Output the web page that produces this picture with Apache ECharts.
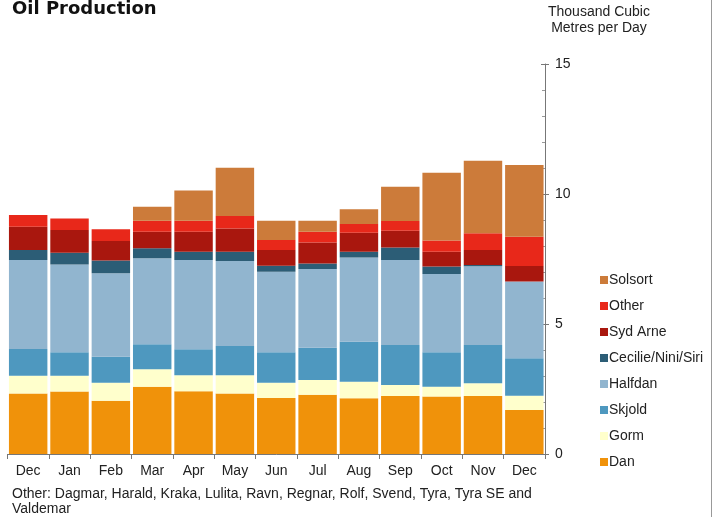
<!DOCTYPE html>
<html>
<head>
<meta charset="utf-8">
<script src="https://cdn.jsdelivr.net/npm/echarts@6/dist/echarts.min.js"></script>
<style>html,body{margin:0;padding:0;background:#fff}#c{width:718px;height:517px}</style>
</head>
<body>
<div id="c"></div>
<script>
var categories = ['Dec','Jan','Feb','Mar','Apr','May','Jun','Jul','Aug','Sep','Oct','Nov','Dec'];
var dan      = [2.33,2.40,2.05,2.59,2.41,2.33,2.15,2.28,2.14,2.23,2.21,2.23,1.69];
var gorm     = [0.68,0.61,0.69,0.67,0.62,0.70,0.59,0.57,0.64,0.42,0.38,0.49,0.55];
var skjold   = [1.03,0.90,1.00,0.96,1.00,1.12,1.17,1.24,1.54,1.54,1.32,1.47,1.44];
var halfdan  = [3.42,3.38,3.21,3.31,3.43,3.27,3.10,3.03,3.24,3.27,3.01,3.03,2.95];
var cecilie  = [0.39,0.45,0.49,0.38,0.32,0.36,0.23,0.21,0.22,0.48,0.29,0.05,0.00];
var sydArne  = [0.89,0.88,0.75,0.64,0.77,0.89,0.61,0.80,0.73,0.65,0.57,0.58,0.60];
var other    = [0.45,0.44,0.45,0.42,0.42,0.48,0.38,0.42,0.34,0.37,0.43,0.64,1.13];
var solsort  = [0.00,0.00,0.00,0.54,1.16,1.86,0.74,0.42,0.56,1.32,2.61,2.79,2.76];
var yTicks = [0,5,10,15];

var seriesDefs = [
  ['Dan', dan, '#F0920A'],
  ['Gorm', gorm, '#FFFFCC'],
  ['Skjold', skjold, '#4E98BF'],
  ['Halfdan', halfdan, '#91B5CF'],
  ['Cecilie/Nini/Siri', cecilie, '#2C5D76'],
  ['Syd Arne', sydArne, '#A9170E'],
  ['Other', other, '#E8281A'],
  ['Solsort', solsort, '#CC7B3A']
];
var FONT = 'Liberation Sans, Arial, sans-serif';
var chart = echarts.init(document.getElementById('c'));
chart.setOption({
  animation: false,
  title: {
    text: 'Oil Production', left: 7, top: -5,
    textStyle: {fontFamily: 'DejaVu Sans, sans-serif', fontSize: 18, fontWeight: 'bold', color: '#111'}
  },
  graphic: [
    {type: 'text', left: 548, top: 4, style: {text: 'Thousand Cubic\nMetres per Day', font: '14px ' + FONT, fill: '#222', textAlign: 'center', lineHeight: 16}},
    {type: 'text', left: 12, top: 487, style: {text: 'Other: Dagmar, Harald, Kraka, Lulita, Ravn, Regnar, Rolf, Svend, Tyra, Tyra SE and\nValdemar', font: '14px ' + FONT, fill: '#222', lineHeight: 15}},
    {type: 'rect', shape: {x: 711, y: 0, width: 1, height: 517}, style: {fill: '#999'}}
  ],
  legend: {
    orient: 'vertical', left: 595, top: 268,
    itemWidth: 8, itemHeight: 8, itemGap: 12,
    icon: 'rect',
    data: ['Solsort','Other','Syd Arne','Cecilie/Nini/Siri','Halfdan','Skjold','Gorm','Dan'],
    textStyle: {fontFamily: FONT, fontSize: 14, color: '#222', padding: [0,0,0,-4]}
  },
  grid: {left: 7.5, right: 173, top: 64, bottom: 63, containLabel: false},
  xAxis: {
    type: 'category', data: categories,
    axisLine: {lineStyle: {color: '#777'}},
    axisTick: {show: true, length: 5, lineStyle: {color: '#777'}},
    axisLabel: {fontFamily: FONT, fontSize: 14, color: '#222', margin: 10, interval: 0}
  },
  yAxis: [{
    type: 'value', position: 'right', min: 0, max: 15, interval: 5,
    splitLine: {show: false},
    axisLine: {show: true, lineStyle: {color: '#777'}},
    axisTick: {show: true, inside: true, length: 4, lineStyle: {color: '#777'}},
    minorTick: {show: true, splitNumber: 5, length: 3, lineStyle: {color: '#999'}},
    axisLabel: {fontFamily: FONT, fontSize: 14, color: '#222', margin: 10,
      formatter: function(v){ return yTicks.indexOf(v) >= 0 ? String(v) : ''; }}
  }, {
    type: 'value', position: 'right', min: 0, max: 15, interval: 5,
    splitLine: {show: false},
    axisLine: {show: false},
    axisTick: {show: true, inside: false, length: 4, lineStyle: {color: '#777'}},
    axisLabel: {show: false}
  }],
  series: seriesDefs.map(function(d){
    return {
      name: d[0], type: 'bar', stack: 'total', data: d[1],
      barCategoryGap: '7%',
      itemStyle: {color: d[2]},
      emphasis: {disabled: true}
    };
  })
});
</script>
</body>
</html>
